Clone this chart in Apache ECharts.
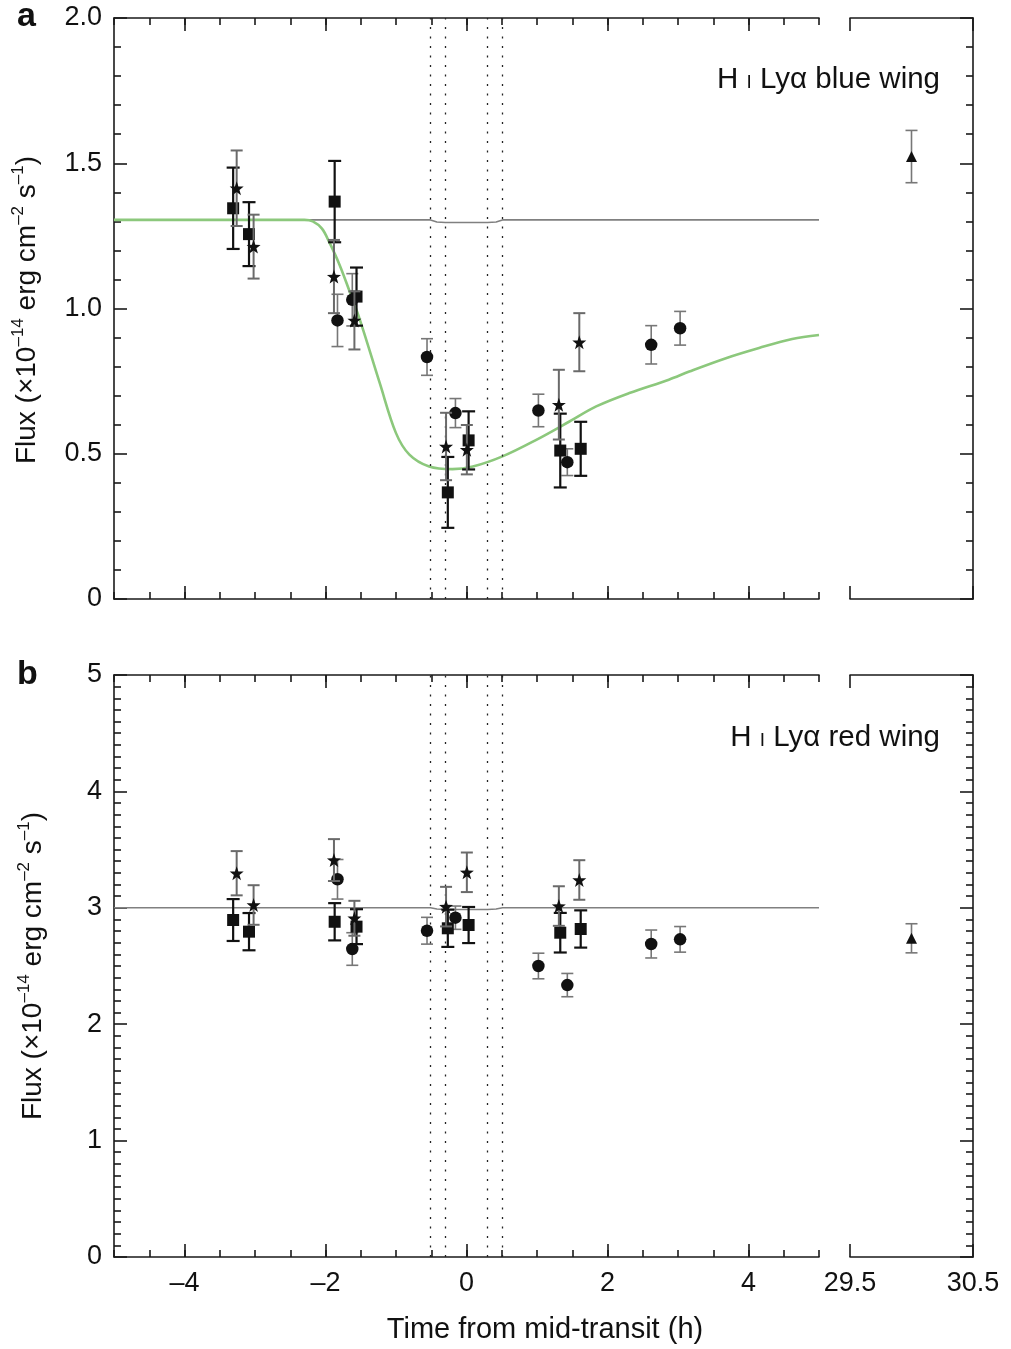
<!DOCTYPE html>
<html><head><meta charset="utf-8">
<script src="https://cdn.jsdelivr.net/npm/echarts@6/dist/echarts.min.js"></script>
<style>html,body{margin:0;padding:0;background:#fff}#c{width:1011px;height:1349px}</style>
</head><body><div id="c"></div>
<script>
// ---------- data ----------
const squareTimes = [-3.31, -3.085, -1.87, -1.56, -0.265, 0.03, 1.33, 1.62];
const starTimes   = [-3.26, -3.02, -1.88, -1.59, -0.29, 0.005, 1.31, 1.60];
const circleTimes = [-1.83, -1.62, -0.56, -0.157, 1.02, 1.43, 2.62, 3.03];
const triangleTimes = [30.0];

// panel a: blue wing
const blueSquare = [1.345, 1.256, 1.368, 1.041, 0.367, 0.546, 0.511, 0.517];
const blueSquareErr = [0.14, 0.11, 0.14, 0.10, 0.122, 0.10, 0.127, 0.093];
const blueStar = [1.414, 1.213, 1.110, 0.959, 0.525, 0.514, 0.669, 0.884];
const blueStarErr = [0.13, 0.11, 0.126, 0.10, 0.116, 0.085, 0.12, 0.10];
const blueCircle = [0.959, 1.03, 0.833, 0.640, 0.649, 0.471, 0.875, 0.932];
const blueCircleErr = [0.09, 0.09, 0.063, 0.05, 0.056, 0.046, 0.066, 0.058];
const blueTriangle = [1.523];
const blueTriangleErr = [0.09];

// panel b: red wing
const redSquare = [2.895, 2.795, 2.88, 2.838, 2.824, 2.852, 2.786, 2.818];
const redSquareErr = [0.18, 0.16, 0.16, 0.15, 0.16, 0.155, 0.17, 0.16];
const redStar = [3.297, 3.024, 3.41, 2.91, 3.01, 3.305, 3.015, 3.239];
const redStarErr = [0.19, 0.17, 0.18, 0.15, 0.17, 0.17, 0.17, 0.17];
const redCircle = [3.245, 2.646, 2.803, 2.915, 2.50, 2.336, 2.689, 2.729];
const redCircleErr = [0.17, 0.14, 0.115, 0.10, 0.11, 0.10, 0.12, 0.11];
const redTriangle = [2.738];
const redTriangleErr = [0.125];

// models
const flatModelTimes = [-5, -0.51, -0.42, -0.30, 0.30, 0.42, 0.51, 5];
const blueFlatModel = [1.305, 1.305, 1.298, 1.296, 1.296, 1.298, 1.305, 1.305];
const redFlatModel = [3.0, 3.0, 2.99, 2.986, 2.986, 2.99, 3.0, 3.0];
const escapeTimes = [-5, -2.3, -2.18, -2.05, -1.95, -1.8, -1.66, -1.52, -1.23, -1.0, -0.81, -0.53, -0.2, 0.09, 0.51, 0.99, 1.46, 1.84, 2.31, 2.87, 3.16, 3.68, 4.15, 4.62, 5.0];
const escapeFlux = [1.305, 1.305, 1.30, 1.275, 1.23, 1.15, 1.06, 0.967, 0.743, 0.571, 0.497, 0.456, 0.447, 0.456, 0.491, 0.548, 0.611, 0.663, 0.709, 0.755, 0.783, 0.829, 0.864, 0.895, 0.909];

// transit contacts (dotted lines)
const contactTimes = [-0.51, -0.30, 0.30, 0.51];

// tick labels
const mainXTicks = [-4, -2, 0, 2, 4];
const breakXTicks = [29.5, 30.5];

// ---------- chart ----------
const AX = '#1a1a1a';
const FONT = 'Liberation Sans, Arial, Helvetica, sans-serif';
const LBL = 27;
const zip = (a, b, c) => a.map((v, i) => c ? [v, b[i], c[i]] : [v, b[i]]);
const tickStyle = {color: AX, width: 1.6};

function xMinor(g, pos) {
  return {type: 'value', gridIndex: g, position: pos, min: -5, max: 5, interval: 0.5,
    axisLine: {show: true, onZero: false, lineStyle: tickStyle},
    axisTick: {show: true, inside: true, length: 7, lineStyle: tickStyle},
    axisLabel: {show: false}, splitLine: {show: false}};
}
function xMajor(g, pos, labels) {
  return {type: 'value', gridIndex: g, position: pos, min: -5, max: 5,
    axisLine: {show: false, onZero: false},
    axisTick: {show: true, inside: true, length: 13, customValues: mainXTicks, lineStyle: tickStyle},
    axisLabel: {show: labels, customValues: mainXTicks, margin: 13, fontSize: LBL, fontFamily: FONT, color: '#111',
      formatter: v => v < 0 ? '\u2013' + Math.abs(v) : String(v)},
    splitLine: {show: false}};
}
function xBreak(g, pos, labels) {
  return {type: 'value', gridIndex: g, position: pos, min: 29.5, max: 30.5,
    axisLine: {show: true, onZero: false, lineStyle: tickStyle},
    axisTick: {show: true, inside: true, length: 13, customValues: breakXTicks, lineStyle: tickStyle},
    axisLabel: {show: labels, customValues: breakXTicks, margin: 13, fontSize: LBL, fontFamily: FONT, color: '#111',
      formatter: v => v.toFixed(1)},
    splitLine: {show: false}};
}
function yAx(g, pos, max, interval, minorSplit, labels, fmt) {
  return {type: 'value', gridIndex: g, position: pos, min: 0, max: max, interval: interval,
    axisLine: {show: true, onZero: false, lineStyle: tickStyle},
    axisTick: {show: true, inside: true, length: 13, lineStyle: tickStyle},
    minorTick: {show: true, splitNumber: minorSplit, length: 7, lineStyle: tickStyle},
    axisLabel: {show: labels, margin: 12, fontSize: LBL, fontFamily: FONT, color: '#111', formatter: fmt},
    splitLine: {show: false}, minorSplitLine: {show: false}};
}

function errSeries(xi, yi, data, color, width, cap, z) {
  return {type: 'custom', xAxisIndex: xi, yAxisIndex: yi, z: z, silent: true,
    encode: {x: 0, y: 1},
    data: data,
    renderItem: function (params, api) {
      const x = api.value(0), y = api.value(1), e = api.value(2);
      const t = api.coord([x, y + e]), b = api.coord([x, y - e]);
      const st = {stroke: color, lineWidth: width};
      return {type: 'group', children: [
        {type: 'line', shape: {x1: t[0], y1: t[1], x2: b[0], y2: b[1]}, style: st},
        {type: 'line', shape: {x1: t[0] - cap, y1: t[1], x2: t[0] + cap, y2: t[1]}, style: st},
        {type: 'line', shape: {x1: b[0] - cap, y1: b[1], x2: b[0] + cap, y2: b[1]}, style: st}
      ]};
    }};
}
const STAR = 'path://M100,0 L123.5,67.6 L195.1,69.1 L138,112.4 L158.8,180.9 L100,140 L41.2,180.9 L62,112.4 L4.9,69.1 L76.5,67.6 Z';
function sym(xi, yi, data, symbol, size, z) {
  return {type: 'scatter', xAxisIndex: xi, yAxisIndex: yi, z: z, silent: true,
    symbol: symbol, symbolSize: size, data: data, itemStyle: {color: '#111', opacity: 1}};
}
function dotted() {
  return {silent: true, symbol: 'none', label: {show: false},
    lineStyle: {color: '#222', type: [2, 7.5], width: 1.3},
    data: contactTimes.map(t => ({xAxis: t}))};
}

function panelSeries(xi, yi, xb, yb, flat, sq, sqE, st, stE, ci, ciE, tr, trE, withEscape) {
  const s = [];
  s.push({type: 'line', xAxisIndex: xi, yAxisIndex: yi, z: 2, silent: true, showSymbol: false,
    data: zip(flatModelTimes, flat), lineStyle: {color: '#808080', width: 1.6}, markLine: dotted()});
  if (withEscape) {
    s.push({type: 'line', xAxisIndex: xi, yAxisIndex: yi, z: 3, silent: true, showSymbol: false,
      smooth: 0.35, data: zip(escapeTimes, escapeFlux), lineStyle: {color: '#8cc87c', width: 2.6}});
  }
  s.push(errSeries(xi, yi, zip(circleTimes, ci, ciE), '#777', 1.6, 6, 4));
  s.push(sym(xi, yi, zip(circleTimes, ci), 'circle', 12.5, 5));
  s.push(errSeries(xi, yi, zip(squareTimes, sq, sqE), '#111', 2.2, 6.5, 6));
  s.push(sym(xi, yi, zip(squareTimes, sq), 'rect', 12, 7));
  s.push(errSeries(xi, yi, zip(starTimes, st, stE), '#6a6a6a', 2, 6, 8));
  s.push(sym(xi, yi, zip(starTimes, st), STAR, 14, 9));
  s.push(errSeries(xb, yb, zip(triangleTimes, tr, trE), '#777', 1.6, 6, 4));
  s.push(sym(xb, yb, zip(triangleTimes, tr), 'triangle', 11, 5));
  return s;
}

const yTitle = 'Flux (\u00d710{sup|\u201314} erg cm{sup|\u20132} s{sup|\u20131})';
const supRich = {sup: {fontSize: 17, fontFamily: FONT, fill: '#111', verticalAlign: 'top', lineHeight: 18}};
const wingRich = {sc: {fontSize: 19, fontFamily: FONT, fill: '#111', verticalAlign: 'middle', lineHeight: 20, padding: [5, 0, 0, 0]}};

const option = {
  animation: false,
  backgroundColor: '#fff',
  grid: [
    {left: 114, top: 18, width: 705, height: 581},
    {left: 850, top: 18, width: 123, height: 581},
    {left: 114, top: 675, width: 705, height: 582},
    {left: 850, top: 675, width: 123, height: 582}
  ],
  xAxis: [
    xMinor(0, 'bottom'), xMajor(0, 'bottom', false), xMinor(0, 'top'), xMajor(0, 'top', false),
    xBreak(1, 'bottom', false), xBreak(1, 'top', false),
    xMinor(2, 'bottom'), xMajor(2, 'bottom', true), xMinor(2, 'top'), xMajor(2, 'top', false),
    xBreak(3, 'bottom', true), xBreak(3, 'top', false)
  ],
  yAxis: [
    yAx(0, 'left', 2, 0.5, 5, true, v => v === 0 ? '0' : v.toFixed(1)),
    yAx(1, 'right', 2, 0.5, 5, false),
    yAx(2, 'left', 5, 1, 10, true, v => String(v)),
    yAx(3, 'right', 5, 1, 10, false)
  ],
  series: [].concat(
    panelSeries(0, 0, 4, 1, blueFlatModel, blueSquare, blueSquareErr, blueStar, blueStarErr,
      blueCircle, blueCircleErr, blueTriangle, blueTriangleErr, true),
    panelSeries(6, 2, 10, 3, redFlatModel, redSquare, redSquareErr, redStar, redStarErr,
      redCircle, redCircleErr, redTriangle, redTriangleErr, false)
  ),
  graphic: [
    {type: 'text', x: 17, y: 17, style: {text: 'a', fontSize: 34, fontWeight: 'bold', fontFamily: FONT, fill: '#111', align: 'left', verticalAlign: 'middle'}},
    {type: 'text', x: 17, y: 675, style: {text: 'b', fontSize: 34, fontWeight: 'bold', fontFamily: FONT, fill: '#111', align: 'left', verticalAlign: 'middle'}},
    {type: 'text', x: 940, y: 80, style: {text: 'H {sc|I} Ly\u03b1 blue wing', rich: wingRich, fontSize: 29.5, lineHeight: 33, fontFamily: FONT, fill: '#111', align: 'right', verticalAlign: 'middle'}},
    {type: 'text', x: 940, y: 738, style: {text: 'H {sc|I} Ly\u03b1 red wing', rich: wingRich, fontSize: 29.5, lineHeight: 33, fontFamily: FONT, fill: '#111', align: 'right', verticalAlign: 'middle'}},
    {type: 'text', x: 545, y: 1330, style: {text: 'Time from mid-transit (h)', fontSize: 29, fontFamily: FONT, fill: '#111', align: 'center', verticalAlign: 'middle'}},
    {type: 'text', x: 27, y: 310, rotation: Math.PI / 2, style: {text: yTitle, rich: supRich, fontSize: 28, lineHeight: 34, fontFamily: FONT, fill: '#111', align: 'center', verticalAlign: 'middle'}},
    {type: 'text', x: 33, y: 966, rotation: Math.PI / 2, style: {text: yTitle, rich: supRich, fontSize: 28, lineHeight: 34, fontFamily: FONT, fill: '#111', align: 'center', verticalAlign: 'middle'}}
  ]
};
const chart = echarts.init(document.getElementById('c'), null, {renderer: 'canvas'});
chart.setOption(option);
</script>
</body></html>
